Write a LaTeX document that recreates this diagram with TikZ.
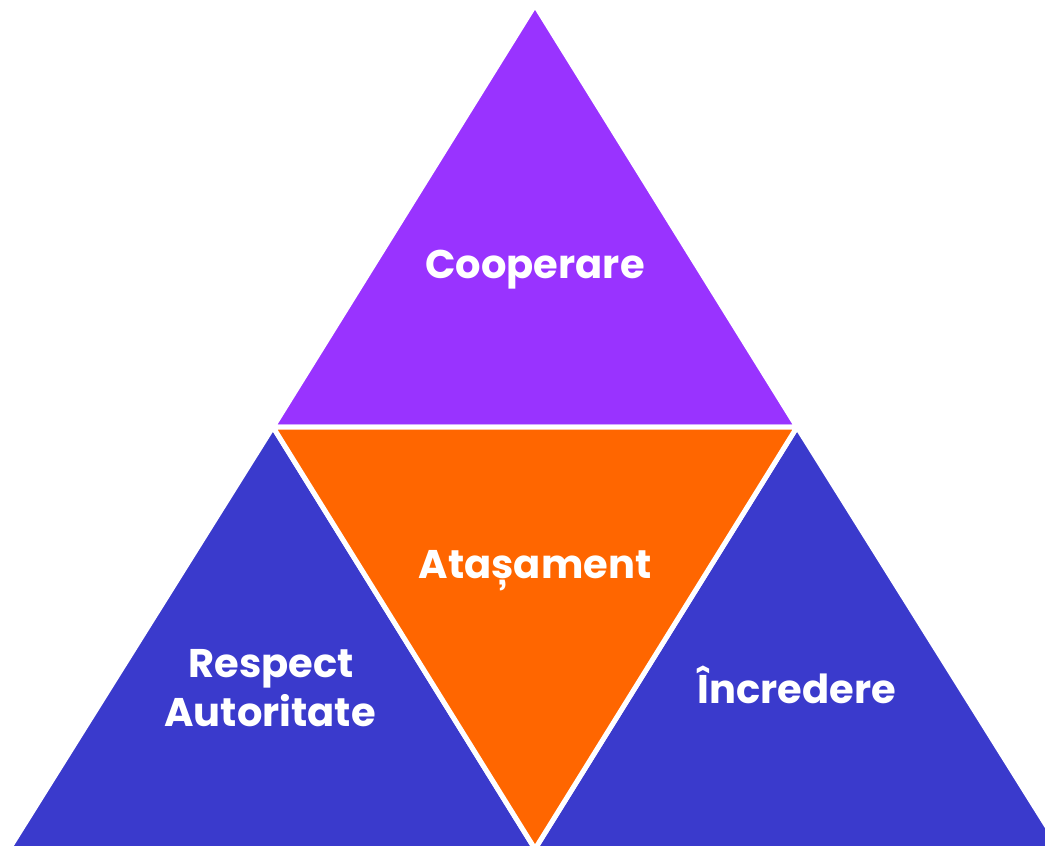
\documentclass[tikz,border=0pt]{standalone}
\usepackage{fontspec}
\setmainfont{Poppins}
\definecolor{cpurple}{HTML}{9933FF}
\definecolor{corange}{HTML}{FF6600}
\definecolor{cblue}{HTML}{3A3ACC}
\begin{document}
\begin{tikzpicture}[x=1pt,y=-1pt,
  piece/.style={draw=white,line width=5pt,line join=miter},
  lbl/.style={text=white,font=\fontsize{40}{50}\selectfont\bfseries,anchor=base,inner sep=0pt}]
\useasboundingbox (0,0) rectangle (1045,846);
\clip (0,0) rectangle (1045,846);
\coordinate (A) at (535,5);
\coordinate (L) at (9,849);
\coordinate (R) at (1061,849);
\coordinate (ML) at (273,427);
\coordinate (MR) at (797,427);
\coordinate (MB) at (535,849);
\fill[white] (0,0) rectangle (1045,846);
\filldraw[piece,fill=cpurple] (A) -- (ML) -- (MR) -- cycle;
\filldraw[piece,fill=cblue] (ML) -- (L) -- (MB) -- cycle;
\filldraw[piece,fill=cblue] (MR) -- (MB) -- (R) -- cycle;
\filldraw[piece,fill=corange] (ML) -- (MR) -- (MB) -- cycle;
\node[lbl] (coop) at (535,278) {Cooperare};
\node[lbl] (atas) at (535,578) {Atașament};
\node[lbl] (resp) at (271,677) {Respect};
\node[lbl] (auto) at (270,726) {Autoritate};
\node[lbl] (incr) at (797,703) {Încredere};
\end{tikzpicture}
\end{document}
